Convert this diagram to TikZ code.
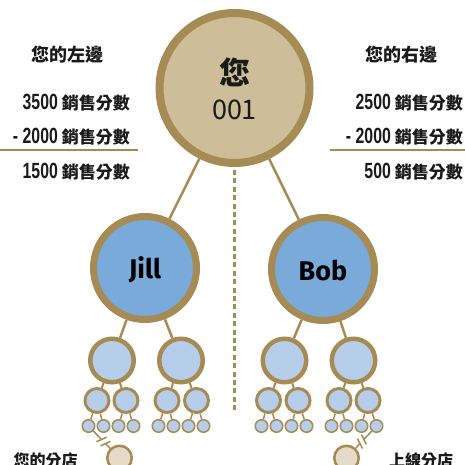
\documentclass[tikz,border=0pt]{standalone}
\usepackage{fontspec}
\setmainfont{Noto Sans CJK TC}
\newfontfamily\cjk{Noto Sans CJK TC}
\newfontfamily\numfont[FakeStretch=0.72]{Liberation Sans}
\newfontfamily\namefont{Fira Sans}
\usetikzlibrary{calc}
\definecolor{gold}{HTML}{A68B54}
\definecolor{topfill}{HTML}{CDBD99}
\definecolor{midblue}{HTML}{7AAADA}
\definecolor{lightblue}{HTML}{B7CEEA}
\definecolor{sandfill}{HTML}{E4DBC9}
\definecolor{ink}{HTML}{1A1A1A}
\tikzset{
  ball/.style={circle,draw=gold,inner sep=0pt},
  topball/.style={ball,fill=topfill,line width=8,minimum size=150},
  l2ball/.style={ball,fill=midblue,line width=7,minimum size=103},
  l3ball/.style={ball,fill=lightblue,line width=4.5,minimum size=43.5},
  l4ball/.style={ball,fill=lightblue,line width=3,minimum size=24},
  l5ball/.style={ball,fill=lightblue,line width=1.5,minimum size=12.5},
  shopball/.style={ball,fill=sandfill,line width=2.5,minimum size=24.5},
  link/.style={draw=gold,line width=2.5},
  thinlink/.style={draw=gold,line width=1.5},
  lbl/.style={text=ink,inner sep=0pt,font=\cjk\bfseries\fontsize{17}{20}\selectfont},
  ttl/.style={text=ink,inner sep=0pt,font=\cjk\bfseries\fontsize{18}{22}\selectfont},
}
\newcommand{\nm}[1]{{\numfont\fontsize{22}{24}\selectfont #1}}
\begin{document}
\begin{tikzpicture}[x=1pt,y=-1pt]
\useasboundingbox (0,0) rectangle (465,465);
% nodes
\node[topball] (top) at (234.5,88) {};
\node[l2ball] (jill) at (145,268) {};
\node[l2ball] (bob) at (323,269) {};
\node[l3ball] (a1) at (112,360.5) {};
\node[l3ball] (a2) at (181,360.5) {};
\node[l3ball] (b1) at (284.5,360.5) {};
\node[l3ball] (b2) at (353.5,360.5) {};
\foreach \n/\x in {1/97,2/126,3/167,4/196.5,5/268.5,6/298,7/339,8/368}
  \node[l4ball] (c\n) at (\x,400.5) {};
\foreach \n/\x in {1/88.5,2/103.5,3/118.5,4/133.5,5/158.5,6/173.5,7/188.5,8/203.5,
                   9/261.5,10/276.5,11/291.5,12/306.5,13/331.5,14/346.5,15/361.5,16/376.5}
  \node[l5ball] (d\n) at (\x,426) {};
\node[shopball] (s1) at (119.5,458) {};
\node[shopball] (s2) at (346.5,458) {};
% connectors
\draw[link] (top) -- (jill);
\draw[link] (top) -- (bob);
\coordinate (dashend) at (234.5,413);
\draw[draw=gold,line width=2.5,dash pattern=on 5 off 3.4] (top.south) ++(0,3) -- (dashend);
\draw[link] (jill) -- (a1);
\draw[link] (jill) -- (a2);
\draw[link] (bob) -- (b1);
\draw[link] (bob) -- (b2);
\draw[link,line width=2] (a1) -- (c1); \draw[link,line width=2] (a1) -- (c2);
\draw[link,line width=2] (a2) -- (c3); \draw[link,line width=2] (a2) -- (c4);
\draw[link,line width=2] (b1) -- (c5); \draw[link,line width=2] (b1) -- (c6);
\draw[link,line width=2] (b2) -- (c7); \draw[link,line width=2] (b2) -- (c8);
\foreach \p/\q/\r in {1/1/2,2/3/4,3/5/6,4/7/8,5/9/10,6/11/12,7/13/14,8/15/16} {
  \draw[thinlink] (c\p) -- (d\q);
  \draw[thinlink] (c\p) -- (d\r);
}
% broken links to shops
\draw[thinlink] (d1) -- (s1);
\draw[thinlink] (d16) -- (s2);
\foreach \a/\b in {d1/s1,d16/s2} {
  \coordinate (m1) at ($(\a)!0.42!(\b)$);
  \coordinate (m2) at ($(\a)!0.55!(\b)$);
  \draw[white,line width=3.5] (m1) -- (m2);
  \draw[thinlink] ($(m1)!5.5pt!70:(\b)$) -- ($(m1)!5.5pt!-110:(\b)$);
  \draw[thinlink] ($(m2)!5.5pt!70:(\b)$) -- ($(m2)!5.5pt!-110:(\b)$);
}
% texts in nodes
\node[text=ink,font=\cjk\bfseries\fontsize{31}{34}\selectfont,inner sep=0pt] (nin) at (234.5,72) {您};
\node[text=ink,font=\cjk\fontsize{27}{30}\selectfont,inner sep=0pt] (num) at (234.5,110) {001};
\node[text=black,font=\namefont\bfseries\fontsize{27}{30}\selectfont,inner sep=0pt] (jt) at (145,270) {Jill};
\node[text=black,font=\namefont\bfseries\fontsize{27}{30}\selectfont,inner sep=0pt] (bt) at (323,270) {Bob};
% side tables
\node[ttl] (lt) at (67.5,55) {您的左邊};
\node[ttl] (rt) at (401,55) {您的右邊};
\node[lbl,anchor=east] (l1) at (130,103) {\nm{3500} 銷售分數};
\node[lbl,anchor=east] (l2) at (130,137) {\nm{- 2000} 銷售分數};
\node[lbl,anchor=east] (l3) at (130,172) {\nm{1500} 銷售分數};
\node[lbl,anchor=east] (r1) at (463,103) {\nm{2500} 銷售分數};
\node[lbl,anchor=east] (r2) at (463,137) {\nm{- 2000} 銷售分數};
\node[lbl,anchor=east] (r3) at (463,172) {\nm{500} 銷售分數};
\coordinate (lr0) at (0,150); \coordinate (lr1) at (138,150);
\coordinate (rr0) at (330,150); \coordinate (rr1) at (465,150);
\draw[draw=gold,line width=2] (lr0) -- (lr1);
\draw[draw=gold,line width=2] (rr0) -- (rr1);
\node[ttl,font=\cjk\bfseries\fontsize{16}{18}\selectfont] (yours) at (45.5,460) {您的分店};
\node[ttl,font=\cjk\bfseries\fontsize{16}{18}\selectfont] (upline) at (421,460) {上線分店};
\end{tikzpicture}
\end{document}
